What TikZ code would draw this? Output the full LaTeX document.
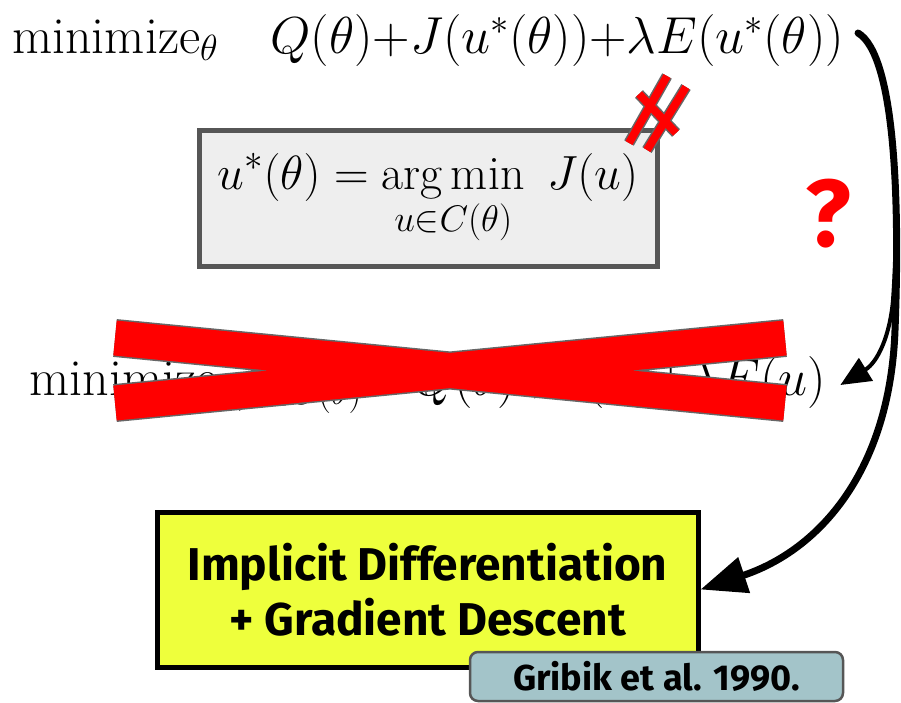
\RequirePackage{fix-cm}
\documentclass[tikz,border=0pt]{standalone}
\usepackage{amsmath}
\usepackage{fontspec}
\newfontfamily\labelsans{Fira Sans}
\usetikzlibrary{arrows.meta,positioning}
\DeclareMathSizes{48}{48}{37}{28}
\definecolor{boxfill}{HTML}{EEEEEE}
\definecolor{boxedge}{HTML}{565656}
\definecolor{methodyellow}{HTML}{EEFF3C}
\definecolor{refteal}{HTML}{A3C4C9}
\definecolor{strikered}{HTML}{FF0000}
\definecolor{strikeedge}{HTML}{666666}

\begin{document}
\begin{tikzpicture}[x=1pt, y=-1pt, every node/.style={inner sep=2pt},
  formula/.style={font=\fontsize{52}{62}\selectfont},
  setbox/.style={draw=boxedge, line width=5pt, fill=boxfill, minimum width=458pt, minimum height=136pt, inner sep=0pt, font=\fontsize{48}{58}\selectfont},
  methodbox/.style={draw=black, line width=5pt, fill=methodyellow, minimum width=541pt, minimum height=155pt, inner sep=0pt, align=center, font=\labelsans\bfseries\fontsize{46}{55}\selectfont},
  refbox/.style={draw=boxedge, line width=2.5pt, fill=refteal, rounded corners=8pt, minimum width=373pt, minimum height=49pt, inner sep=0pt, font=\labelsans\bfseries\fontsize{36}{42}\selectfont},
  flow/.style={line width=7pt, line cap=round, -{Triangle[length=46pt, width=36pt]}},
  flowthin/.style={line width=4pt, line cap=round, -{Triangle[length=30pt, width=26pt]}}]
\useasboundingbox (0,0) rectangle (901,702);
\node[formula] (bilevel) at (428,40) {$\mathrm{minimize}_\theta\quad Q(\theta){+}J(u^*(\theta)){+}\lambda E(u^*(\theta))$};
\node[setbox] (lower) at (428,198) {$\displaystyle u^*(\theta) = \operatorname*{arg\,min}_{u\in C(\theta)}\ J(u)$};
\node[formula] (joint) at (428,385) {$\mathrm{minimize}_{\theta,u\in C(\theta)}\quad Q(\theta){+}J(u){+}\lambda E(u)$};
\node[methodbox] (method) at (427.5,589.5) {Implicit Differentiation\\+ Gradient Descent};
\node[refbox] (ref) at (656.5,676.5) {Gribik et al. 1990.};
\node[text=strikered, font=\labelsans\bfseries\fontsize{95}{110}\selectfont, inner sep=0pt] (qmark) at (828,214) {?};
\coordinate (start) at ([xshift=12pt, yshift=7pt]bilevel.east);
\coordinate (jointend) at ([xshift=12pt]joint.east);
% crossed out: not equal, and the big X
\foreach \lw/\col in {11/strikeedge, 8/strikered}
  \draw[line width=\lw pt, \col] (629,143) -- (667,76) (647,150) -- (686,87) (639,94) -- (676,133);
\foreach \lw/\col in {38/strikeedge, 35/strikered}
  \draw[line width=\lw pt, \col] (115,338) -- (785,403) (115,403) -- (785,338);
% the two routes
\draw[flowthin] (start) .. controls (895,55) and (900,200) .. (893,300) .. controls (890,335) and (878,362) .. (jointend);
\draw[flow] (start) .. controls (895,55) and (900,200) .. (895,330) .. controls (890,470) and (820,550) .. (method.east);
\end{tikzpicture}
\end{document}
